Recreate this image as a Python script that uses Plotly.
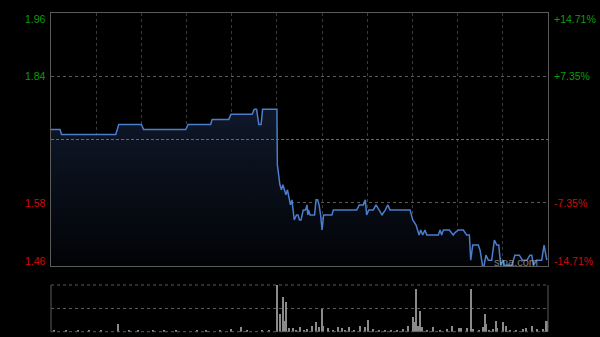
import plotly.graph_objects as go

# ---- data ----
prev_close = 1.71
# intraday price keypoints: minutes since 9:30 (lunch removed; 150 = 12:00/13:00)
price_minutes = [0, 6, 7, 43, 45, 60, 61.5, 89.5, 91, 106, 107, 118, 119.5, 133.5, 135, 136.5, 138, 139.5, 140.5, 150,
                 150.3, 151, 152, 153, 154, 155, 156, 157, 158, 159, 160, 161.5, 163, 164, 165, 166, 167.5, 169, 170,
                 170.5, 171, 172, 175, 176, 177, 178, 179, 180, 181, 186.5, 187.5, 203, 204.7, 207.4, 208.7, 209.6,
                 211, 214, 215.8, 217.6, 219.8, 222, 223.6, 225.1, 238.4, 240.2, 242.4, 244.4, 245.5, 246.8, 248.3,
                 249.5, 257.2, 258.3, 259.4, 260.5, 264.5, 267.1, 268.3, 270.5, 273.8, 276, 277.8, 278.7, 280, 283.7,
                 284.9, 287, 288.8, 290.4, 292.6, 294.4, 296, 297.3, 298.6, 300.3, 301, 306, 308, 311, 313, 316, 318,
                 319.2, 320.3, 322.5, 325.8, 327.4, 329.2]
price_values = [1.73, 1.73, 1.72, 1.72, 1.74, 1.74, 1.73, 1.73, 1.74, 1.74, 1.75, 1.75, 1.76, 1.76, 1.77, 1.77, 1.74, 1.74, 1.77, 1.77,
                1.66, 1.64, 1.62, 1.61, 1.62, 1.61, 1.60, 1.61, 1.59, 1.58, 1.59, 1.55, 1.56, 1.56, 1.55, 1.55, 1.57, 1.57, 1.58,
                1.56, 1.57, 1.56, 1.56, 1.59, 1.59, 1.58, 1.56, 1.53, 1.56, 1.56, 1.57, 1.57, 1.58, 1.58, 1.59, 1.56,
                1.57, 1.57, 1.58, 1.57, 1.56, 1.57, 1.58, 1.57, 1.57, 1.55, 1.54, 1.52, 1.53, 1.52, 1.53,
                1.52, 1.52, 1.53, 1.52, 1.53, 1.53, 1.52, 1.525, 1.53, 1.53, 1.52, 1.52, 1.47, 1.50, 1.50,
                1.49, 1.45, 1.48, 1.47, 1.47, 1.51, 1.50, 1.50, 1.46, 1.47, 1.46, 1.46, 1.48, 1.48, 1.47, 1.47, 1.48,
                1.48, 1.46, 1.47, 1.47, 1.50, 1.47]

# volume (relative units) at selected minutes
vol_minutes = [2, 10, 18, 25, 33, 44.7, 52, 58, 68, 75, 83, 97, 103, 112, 119.3, 126.4, 130, 140, 145,
               150, 152.3, 154.3, 155.6, 156.2, 158, 160.9, 163, 165.3, 168, 170.2, 173.1, 176, 178, 180.1, 180.8,
               184.1, 187, 190.8, 193, 195, 197.9, 201, 205.2, 208.5, 210.3, 214, 218, 222, 226, 230, 233.9, 236.9,
               240.2, 241.2, 242.2, 243.5, 245, 246.1, 250, 253.9, 258, 262.7, 266.1, 271.1, 272.2, 276, 278.9,
               280.4, 284, 287.1, 288.2, 288.8, 291, 293.7, 295.3, 295.9, 299.9, 301.9, 305, 309, 313.6, 315.4,
               319.6, 322.5, 326.9, 328.5, 329.2]
vol_values = [10, 8, 12, 8, 10, 77, 8, 12, 8, 10, 12, 8, 10, 10, 30, 50, 12, 14, 8,
              470, 174, 350, 107, 294, 40, 34, 20, 47, 18, 27, 53, 93, 47, 227, 60,
              34, 18, 47, 34, 16, 47, 20, 53, 47, 114, 27, 15, 18, 14, 16, 27, 60,
              150, 94, 427, 60, 210, 47, 18, 47, 16, 27, 60, 34, 34, 34, 434,
              27, 18, 47, 174, 77, 20, 27, 107, 34, 100, 60, 18, 16, 27, 34,
              53, 27, 27, 107, 107]

pct_levels = [14.71, 7.35, -7.35, -14.71]
left_labels = ["1.96", "1.84", "1.58", "1.46"]
right_labels = ["+14.71%", "+7.35%", "-7.35%", "-14.71%"]
time_grid = [30, 60, 90, 120, 150, 180, 210, 240, 270, 300]
session_minutes = 330

# ---- figure ----
y_lo = prev_close * (1 - pct_levels[0] / 100)
y_hi = prev_close * (1 + pct_levels[0] / 100)
level_vals = [prev_close * (1 + p / 100) for p in pct_levels]

fig = go.Figure()
fig.add_trace(go.Scatter(
    x=price_minutes, y=price_values, mode="lines",
    line=dict(color="#4a7dcc", width=1.5),
    fill="tozeroy",
    fillgradient=dict(type="vertical", start=y_lo, stop=max(price_values),
                      colorscale=[[0, "rgba(2,3,6,1)"], [1, "rgba(15,24,42,1)"]]),
    xaxis="x", yaxis="y", hoverinfo="skip"))
fig.add_trace(go.Bar(
    x=vol_minutes, y=vol_values, width=0.7, marker=dict(color="#8a8a8a", line=dict(width=0)),
    xaxis="x2", yaxis="y2", hoverinfo="skip"))

xdom = [51 / 600, 548 / 600]
fig.update_layout(
    width=600, height=337, margin=dict(l=0, r=0, t=0, b=0),
    paper_bgcolor="#000", plot_bgcolor="#000", showlegend=False,
    font=dict(family="Liberation Sans, Arial, sans-serif", size=11),
    xaxis=dict(domain=xdom, range=[0, session_minutes], tickvals=time_grid, showticklabels=False,
               showgrid=True, gridcolor="#3a3a3a", griddash="dot", gridwidth=1, zeroline=False,
               showline=True, linecolor="#5a5a5a", linewidth=1, mirror=True, ticks=""),
    yaxis=dict(domain=[(337 - 266) / 337, (337 - 13) / 337], range=[y_lo, y_hi],
               tickvals=[level_vals[1], level_vals[2]], showticklabels=False,
               showgrid=True, gridcolor="#5a5a5a", griddash="dot", zeroline=False,
               showline=True, linecolor="#5a5a5a", linewidth=1, mirror=True, ticks=""),
    xaxis2=dict(domain=xdom, range=[0, session_minutes], showticklabels=False, showgrid=False,
                zeroline=False, showline=False, anchor="y2"),
    yaxis2=dict(domain=[(337 - 331.7) / 337, (337 - 285) / 337], range=[0, 470],
                tickvals=[235], showticklabels=False, showgrid=True, gridcolor="#5a5a5a",
                griddash="dot", zeroline=False, showline=False, anchor="x2"),
    bargap=0,
)

# previous close line
fig.add_shape(type="line", xref="x domain", yref="y", x0=0, x1=1, y0=prev_close, y1=prev_close,
              line=dict(color="#6a6a6a", width=1, dash="3px,2px"))
# volume panel borders
for xv in (0, 1):
    fig.add_shape(type="line", xref="x2 domain", yref="y2 domain", x0=xv, x1=xv, y0=0, y1=1,
                  line=dict(color="#5a5a5a", width=1))
for yv in (0, 1):
    fig.add_shape(type="line", xref="x2 domain", yref="y2 domain", x0=0, x1=1, y0=yv, y1=yv,
                  line=dict(color="#5a5a5a", width=1, dash="dot"))

# axis labels
shifts = [-6, 0, 0, 5]
for lv, ll, rl, sh, p in zip(level_vals, left_labels, right_labels, shifts, pct_levels):
    col = "#0b9e0b" if p > 0 else "#d20a0a"
    fig.add_annotation(xref="paper", yref="y", x=48 / 600, y=lv, yshift=sh, text=ll, showarrow=False,
                       xanchor="right", yanchor="middle", font=dict(color=col, size=10.5))
    fig.add_annotation(xref="paper", yref="y", x=552 / 600, y=lv, yshift=sh, text=rl, showarrow=False,
                       xanchor="left", yanchor="middle", font=dict(color=col, size=10.5))

# watermark
fig.add_annotation(xref="paper", yref="paper", x=516 / 600, y=(337 - 262) / 337, text="sina.com",
                   showarrow=False, xanchor="center", yanchor="middle",
                   font=dict(color="rgba(170,170,170,0.75)", size=11))

fig.write_html("out.html")
